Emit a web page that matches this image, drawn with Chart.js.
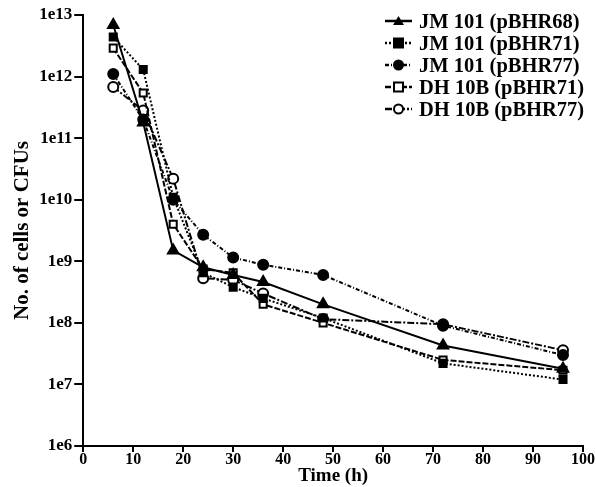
<!DOCTYPE html>
<html>
<head>
<meta charset="utf-8">
<script src="https://cdn.jsdelivr.net/npm/chart.js@4"></script>
<style>
  body{margin:0;background:#fff;}
  #wrap{position:relative;width:596px;height:487px;}
  #legend{position:absolute;left:385px;top:10px;font-family:'Liberation Serif',serif;font-weight:bold;font-size:20.5px;color:#000;}
  #legend div{height:22px;line-height:22px;white-space:nowrap;display:flex;align-items:center;}
  #legend svg{margin-right:7px;}
</style>
</head>
<body>
<div id="wrap">
  <canvas id="c" width="596" height="487"></canvas>
  <div id="legend"></div>
</div>
<script>
// sampling times (h)
const hours = [6, 12, 18, 24, 30, 36, 48, 72, 96];

// viable counts per strain
const jm68 = [6.9e12, 1.8e11, 1.5e9, 8e8, 6e8, 4.6e8, 2e8, 4.3e7, 1.8e7];
const jm71 = [4.4e12, 1.3e12, 1.1e10, 6.5e8, 3.8e8, 2.5e8, 1.2e8, 2.2e7, 1.2e7];
const jm77 = [1.1e12, 2e11, 1e10, 2.7e9, 1.15e9, 8.8e8, 6e8, 9e7, 3e7];
const dh71 = [2.9e12, 5.4e11, 4e9, 7.5e8, 6.5e8, 2e8, 1e8, 2.5e7, 1.7e7];
const dh77 = [6.8e11, 2.8e11, 2.2e10, 5.3e8, 5e8, 3e8, 1.15e8, 9.5e7, 3.6e7];

const seriesNames = ['JM 101 (pBHR68)', 'JM 101 (pBHR71)', 'JM 101 (pBHR77)', 'DH 10B (pBHR71)', 'DH 10B (pBHR77)'];
const yTickPowers = [6, 7, 8, 9, 10, 11, 12, 13];

const styles = [
  {vals: jm68, marker: 'triangle', fill: '#000', dash: []},
  {vals: jm71, marker: 'rect', fill: '#000', dash: [2, 2]},
  {vals: jm77, marker: 'circle', fill: '#000', dash: [4, 2, 1, 2]},
  {vals: dh71, marker: 'rect', fill: '#fff', dash: [6, 2]},
  {vals: dh77, marker: 'circle', fill: '#fff', dash: [7, 2, 2, 2]}
];

const datasets = styles.map((s, i) => ({
  label: seriesNames[i],
  data: hours.map((h, j) => ({x: h, y: s.vals[j]})),
  borderColor: '#000',
  borderWidth: 2,
  borderDash: s.dash,
  pointStyle: s.marker,
  pointRadius: s.marker === 'triangle' ? 6 : 5,
  pointBackgroundColor: s.fill,
  pointBorderColor: '#000',
  pointBorderWidth: 2,
  tension: 0,
  fill: false
}));

Chart.defaults.font.family = "'Liberation Serif', serif";
Chart.defaults.font.weight = 'bold';
Chart.defaults.font.size = 16;
Chart.defaults.color = '#000';

new Chart(document.getElementById('c'), {
  type: 'line',
  data: {datasets},
  options: {
    responsive: false,
    animation: false,
    layout: {padding: {top: 15, right: 13, left: 10, bottom: 0}},
    plugins: {legend: {display: false}, tooltip: {enabled: false}},
    scales: {
      x: {
        type: 'linear', min: 0, max: 100,
        ticks: {stepSize: 10, padding: -2, maxRotation: 0},
        grid: {drawOnChartArea: false, drawTicks: true, tickLength: 6, color: '#000', lineWidth: 2},
        border: {color: '#000', width: 2},
        title: {display: true, text: 'Time (h)', font: {size: 19}, padding: {top: -3, bottom: 0}}
      },
      y: {
        type: 'logarithmic', min: 1e6, max: 1e13,
        afterBuildTicks: ax => { ax.ticks = yTickPowers.map(p => ({value: Math.pow(10, p)})); },
        ticks: {callback: v => '1e' + Math.round(Math.log10(v)), padding: 2, font: {size: 17}},
        grid: {drawOnChartArea: false, drawTicks: true, tickLength: 9, color: '#000', lineWidth: 2},
        border: {color: '#000', width: 2},
        title: {display: true, text: 'No. of cells or CFUs', font: {size: 21}, padding: {top: 0, bottom: 2}}
      }
    }
  }
});

// legend as html: line sample + marker, then label
const legend = document.getElementById('legend');
styles.forEach((s, i) => {
  let mk;
  if (s.marker === 'triangle') mk = '<polygon points="13.5,3 19,12 8,12" fill="#000"/>';
  else if (s.marker === 'rect') mk = `<rect x="9" y="3.5" width="9" height="9" fill="${s.fill}" stroke="#000" stroke-width="2"/>`;
  else mk = `<circle cx="13.5" cy="8" r="4.5" fill="${s.fill}" stroke="#000" stroke-width="2"/>`;
  const row = document.createElement('div');
  row.innerHTML = `<svg width="27" height="16"><line x1="0" y1="8" x2="27" y2="8" stroke="#000" stroke-width="2.5" stroke-dasharray="${s.dash.join(',')}"/>${mk}</svg>${seriesNames[i]}`;
  legend.appendChild(row);
});
</script>
</body>
</html>
